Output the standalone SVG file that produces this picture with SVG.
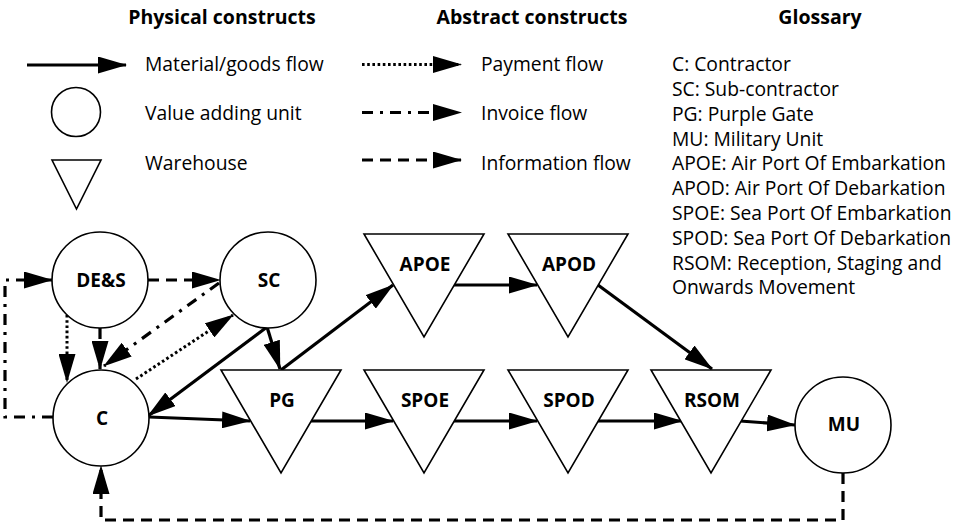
<svg xmlns="http://www.w3.org/2000/svg" width="956" height="525" viewBox="0 0 956 525">
<style>
  text { font-family: "Open Sans", "Noto Sans", "Liberation Sans", sans-serif; fill: #000; }
  .hd { font-size: 19.5px; font-weight: bold; text-anchor: middle; }
  .lg { font-size: 19.3px; }
  .nl { font-size: 19px; font-weight: bold; text-anchor: middle; }
  .shape { fill: #fff; stroke: #000; stroke-width: 1.6; }
  .solid { fill: none; stroke: #000; stroke-width: 3.2; }
  .dash { fill: none; stroke: #000; stroke-width: 3.2; stroke-dasharray: 11 7; }
  .dot { fill: none; stroke: #000; stroke-width: 3; stroke-dasharray: 2.6 2.6; }
  .dashdot { fill: none; stroke: #000; stroke-width: 3.2; stroke-dasharray: 11 7 3 7; }
</style>
<defs>
  <marker id="ah" markerUnits="userSpaceOnUse" markerWidth="29" markerHeight="17" refX="28" refY="8.5" orient="auto">
    <path d="M0,0 L29,8.5 L0,17 Z" fill="#000"/>
  </marker>
</defs>
<rect width="956" height="525" fill="#fff"/>

<g id="legend">
  <text class="hd" x="222" y="24">Physical constructs</text>
  <text class="hd" x="532" y="24">Abstract constructs</text>
  <text class="hd" x="820" y="24">Glossary</text>

  <line class="solid" x1="27" y1="65" x2="126" y2="65" marker-end="url(#ah)"/>
  <text class="lg" x="145" y="71">Material/goods flow</text>
  <circle class="shape" cx="76" cy="112" r="24.5"/>
  <text class="lg" x="145" y="120">Value adding unit</text>
  <polygon class="shape" points="52,160 101,160 76.5,209"/>
  <text class="lg" x="145" y="170">Warehouse</text>

  <line class="dot" x1="362" y1="64.5" x2="461" y2="64.5" marker-end="url(#ah)"/>
  <text class="lg" x="481" y="71">Payment flow</text>
  <line class="dashdot" x1="362" y1="112.5" x2="461" y2="112.5" marker-end="url(#ah)"/>
  <text class="lg" x="481" y="120">Invoice flow</text>
  <line class="dash" x1="362" y1="160" x2="461" y2="160" marker-end="url(#ah)"/>
  <text class="lg" x="481" y="170">Information flow</text>

  <text class="lg" x="672" y="71">C: Contractor</text>
  <text class="lg" x="672" y="96">SC: Sub-contractor</text>
  <text class="lg" x="672" y="121">PG: Purple Gate</text>
  <text class="lg" x="672" y="145.5">MU: Military Unit</text>
  <text class="lg" x="672" y="170">APOE: Air Port Of Embarkation</text>
  <text class="lg" x="672" y="195">APOD: Air Port Of Debarkation</text>
  <text class="lg" x="672" y="220">SPOE: Sea Port Of Embarkation</text>
  <text class="lg" x="672" y="245">SPOD: Sea Port Of Debarkation</text>
  <text class="lg" x="672" y="269.5">RSOM: Reception, Staging and</text>
  <text class="lg" x="672" y="294">Onwards Movement</text>
</g>

<g id="connectors">
  <path class="dash" d="M148,280 L220,280" marker-end="url(#ah)"/>
  <path class="dot" d="M67,315 L67,382" marker-end="url(#ah)"/>
  <path class="dash" d="M100,328 L100,369" marker-end="url(#ah)"/>
  <path class="dashdot" d="M219,283 L104,366" marker-end="url(#ah)"/>
  <path class="dot" d="M136,379 L233,315" marker-end="url(#ah)"/>
  <path class="solid" d="M267,327 L148,416" marker-end="url(#ah)"/>
  <path class="solid" d="M267,327 L280,369" marker-end="url(#ah)"/>
  <path class="solid" d="M281,370 L393,285" marker-end="url(#ah)"/>
  <path class="solid" d="M149,417 L250,421" marker-end="url(#ah)"/>
  <path class="solid" d="M310,421 L393,421" marker-end="url(#ah)"/>
  <path class="solid" d="M453,421 L537,421" marker-end="url(#ah)"/>
  <path class="solid" d="M453,285 L537,285" marker-end="url(#ah)"/>
  <path class="solid" d="M598,285 L712,369" marker-end="url(#ah)"/>
  <path class="solid" d="M597,421 L682,421" marker-end="url(#ah)"/>
  <path class="solid" d="M740,421 L795,425" marker-end="url(#ah)"/>
  <path class="dash" d="M843,473 L843,520 L101,520 L101,466" marker-end="url(#ah)"/>
  <path class="dashdot" d="M53,417 L5,417 L5,280 L52,280" marker-end="url(#ah)"/>
</g>

<g id="node-DES">
  <circle class="shape" cx="100" cy="280" r="48"/>
  <text class="nl" x="101" y="287">DE&amp;S</text>
</g>
<g id="node-SC">
  <circle class="shape" cx="268" cy="280" r="48"/>
  <text class="nl" x="269" y="287">SC</text>
</g>
<g id="node-C">
  <circle class="shape" cx="101" cy="418" r="48"/>
  <text class="nl" x="102" y="425">C</text>
</g>
<g id="node-MU">
  <circle class="shape" cx="843" cy="425" r="48"/>
  <text class="nl" x="844" y="431">MU</text>
</g>
<g id="node-APOE">
  <polygon class="shape" points="364,234 484,234 424,337"/>
  <text class="nl" x="425" y="270.5">APOE</text>
</g>
<g id="node-APOD">
  <polygon class="shape" points="508,234 628,234 568,337"/>
  <text class="nl" x="569" y="270.5">APOD</text>
</g>
<g id="node-PG">
  <polygon class="shape" points="221,370 341,370 281,473"/>
  <text class="nl" x="282" y="406.5">PG</text>
</g>
<g id="node-SPOE">
  <polygon class="shape" points="364,370 484,370 424,473"/>
  <text class="nl" x="425" y="406.5">SPOE</text>
</g>
<g id="node-SPOD">
  <polygon class="shape" points="508,370 628,370 568,473"/>
  <text class="nl" x="569" y="406.5">SPOD</text>
</g>
<g id="node-RSOM">
  <polygon class="shape" points="651,370 771,370 711,473"/>
  <text class="nl" x="712" y="406.5">RSOM</text>
</g>
</svg>
